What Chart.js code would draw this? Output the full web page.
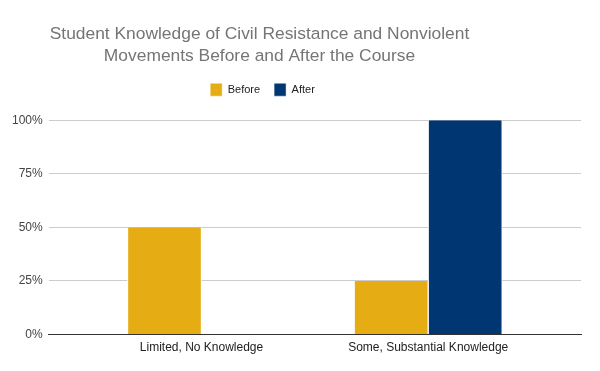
<!DOCTYPE html>
<html>
<head>
<meta charset="utf-8">
<script src="https://cdn.jsdelivr.net/npm/chart.js@4.4.1/dist/chart.umd.min.js"></script>
<style>
  html, body { margin: 0; padding: 0; background: #fff; }
  #wrap { width: 600px; height: 371px; }
</style>
</head>
<body>
<div id="wrap"><canvas id="c" width="600" height="371"></canvas></div>
<script>
const categories = ["Limited, No Knowledge", "Some, Substantial Knowledge"];
const seriesNames = ["Before", "After"];
const beforeValues = [50, 25];
const afterValues = [0, 100];
const yTicks = [0, 25, 50, 75, 100];
const titleLines = ["Student Knowledge of Civil Resistance and Nonviolent", "Movements Before and After the Course"];

const font = "'Liberation Sans', Arial, sans-serif";

const legendSpacing = {
  id: 'legendSpacing',
  beforeInit(chart) {
    const origFit = chart.legend.fit;
    chart.legend.fit = function () { origFit.call(this); this.height += 14; };
  }
};
const shiftHeader = {
  id: 'shiftHeader',
  afterLayout(chart) {
    if (chart.titleBlock) { chart.titleBlock.left -= 34; chart.titleBlock.right -= 34; }
    if (chart.legend) {
      const dx = -31;
      chart.legend.left += dx; chart.legend.right += dx;
      (chart.legend.legendHitBoxes || []).forEach(h => { h.left += dx; });
    }
  }
};

new Chart(document.getElementById('c'), {
  type: 'bar',
  data: {
    datasets: [
      { label: seriesNames[0], data: beforeValues.map((v, i) => ({ x: i, y: v })), backgroundColor: '#E6AC14', borderColor: '#ffffff', borderWidth: { left: 1, right: 1, top: 0, bottom: 0 }, barThickness: 74 },
      { label: seriesNames[1], data: afterValues.map((v, i) => ({ x: i, y: v })), backgroundColor: '#003671', borderColor: '#ffffff', borderWidth: { left: 1, right: 1, top: 0, bottom: 0 }, barThickness: 74 }
    ]
  },
  plugins: [legendSpacing, shiftHeader],
  options: {
    responsive: false,
    animation: false,
    devicePixelRatio: 1,
    layout: { padding: { left: 6, right: 19, top: 0, bottom: 10 } },
    plugins: {
      title: {
        display: true,
        text: titleLines,
        color: '#757575',
        font: { family: font, size: 17.4, weight: 'normal', lineHeight: 1.27 },
        padding: { top: 23, bottom: 2 }
      },
      legend: {
        display: true,
        labels: {
          color: '#222',
          font: { family: font, size: 11 },
          boxWidth: 12,
          boxHeight: 13,
          padding: 14
        }
      },
      tooltip: { enabled: false }
    },
    scales: {
      x: {
        type: 'linear',
        offset: false,
        min: -0.674,
        max: 1.674,
        afterBuildTicks: (axis) => { axis.ticks = categories.map((c, i) => ({ value: i })); },
        ticks: {
          color: '#222',
          font: { family: font, size: 12 },
          padding: 6,
          maxRotation: 0,
          autoSkip: false,
          callback: (v) => categories[v]
        },
        grid: { display: false, drawTicks: false },
        border: { display: true, color: '#333', width: 1 }
      },
      y: {
        min: 0,
        max: 100,
        afterBuildTicks: (axis) => { axis.ticks = yTicks.map(v => ({ value: v })); },
        ticks: {
          color: '#444',
          font: { family: font, size: 12 },
          padding: 6,
          callback: (v) => v + '%'
        },
        grid: {
          color: (ctx) => ctx.tick && ctx.tick.value === 0 ? '#333' : '#cccccc',
          drawTicks: false
        },
        border: { display: false }
      }
    }
  }
});
</script>
</body>
</html>
